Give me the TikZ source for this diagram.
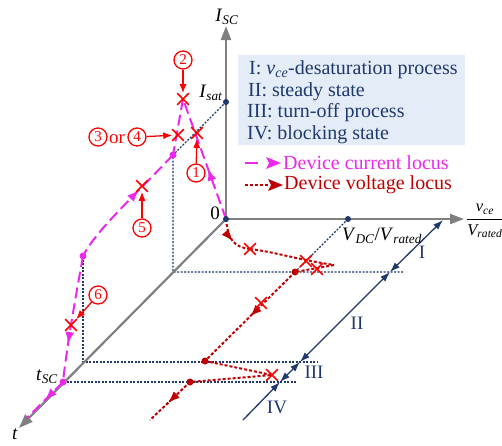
\documentclass[tikz,border=0pt]{standalone}
\usepackage{amsmath}
\usepackage{fontspec}
\setmainfont{Liberation Serif}
\usetikzlibrary{arrows.meta,decorations.markings,shapes.misc}
\definecolor{navy}{RGB}{31,56,110}
\definecolor{mag}{RGB}{236,40,236}
\definecolor{dred}{RGB}{192,0,0}
\definecolor{xred}{RGB}{255,0,0}
\definecolor{axgray}{RGB}{128,128,128}
\definecolor{legbg}{RGB}{228,237,247}
\tikzset{
  axisline/.style={draw=axgray, line width=2.2pt, -{Triangle[length=14pt,width=10pt]}},
  guide/.style={draw=navy, line width=1.2pt, dash pattern=on 2pt off 1.5pt},
  curline/.style={draw=mag, line width=2pt, dash pattern=on 11pt off 5pt},
  voltline/.style={draw=dred, line width=2pt, dash pattern=on 3pt off 2pt},
  phaseline/.style={draw=navy, line width=1.3pt},
  phasetip/.tip={Latex[length=10pt,width=7pt]},
  xmk/.style={cross out, draw=xred, line width=1.6pt, minimum size=10pt, inner sep=0pt},
  cnum/.style={circle, draw=xred, line width=1.3pt, text=xred, minimum size=18pt, inner sep=0pt, font=\fontsize{15}{15}\selectfont},
  annot/.style={draw=xred, line width=1.3pt, -{Latex[length=9pt,width=7pt]}},
  dotmag/.style={circle, fill=mag, minimum size=7pt, inner sep=0pt},
  dotred/.style={circle, fill=dred, minimum size=7pt, inner sep=0pt},
  dotnavy/.style={circle, fill=navy, minimum size=6pt, inner sep=0pt},
  curmark/.style={postaction={decorate,decoration={markings,mark=at position #1 with {\arrow[mag]{Latex[length=12pt,width=9pt]}}}}},
  curmarkrev/.style={postaction={decorate,decoration={markings,mark=at position #1 with {\arrowreversed[mag]{Latex[length=12pt,width=9pt]}}}}},
  voltmark/.style={postaction={decorate,decoration={markings,mark=at position #1 with {\arrow[dred]{Latex[length=12pt,width=9pt]}}}}},
  lbl/.style={inner sep=0pt, font=\fontsize{19}{21}\selectfont},
  phlbl/.style={inner sep=0pt, text=navy, font=\fontsize{19}{21}\selectfont},
  legtxt/.style={anchor=west, inner sep=0pt, text=navy, font=\fontsize{20}{21}\selectfont},
  legitem/.style={anchor=west, inner sep=0pt, font=\fontsize{20}{21}\selectfont}
}
\begin{document}
\begin{tikzpicture}[x=1pt,y=-1pt]
\useasboundingbox (0,0) rectangle (502,445);
% key points
\coordinate (O) at (226,219);
\coordinate (Itop) at (226,26);
\coordinate (Vend) at (464,219);
\coordinate (Tend) at (19,428);
\coordinate (Isat) at (226,102);
\coordinate (VDC) at (348,219);
\coordinate (d1) at (173,155);
\coordinate (d2) at (83,256);
\coordinate (tSC) at (63,382);
\coordinate (t1) at (173,272);
\coordinate (t2) at (83,362);
\coordinate (h1) at (403,272);
\coordinate (h2) at (318,362);
\coordinate (h3) at (297,382);
\coordinate (vd1) at (295,272);
\coordinate (vd2) at (205,361);
\coordinate (vd3) at (190,382);
\coordinate (p0) at (443,220);
\coordinate (p1) at (390,272);
\coordinate (p2) at (300,362);
\coordinate (p3) at (280,382);
\coordinate (p4) at (243,420);
\coordinate (peak) at (183,99);
\coordinate (cend) at (27,418);
\coordinate (vtip) at (334,265);
\coordinate (vk1) at (250,249);
\coordinate (vtip2) at (272,375);
\coordinate (vend) at (150,420);

% legend background
\fill[legbg] (238,55) rectangle (465,145);
\node[legtxt] (L1) at (249,70) {I: \textit{v}\textsubscript{\textit{ce}}-desaturation process};
\node[legtxt] (L2) at (248,92) {II: steady state};
\node[legtxt] (L3) at (247,113) {III: turn-off process};
\node[legtxt] (L4) at (247,135) {IV: blocking state};
\coordinate (lc1) at (245,163);
\coordinate (lc2) at (258,163);
\draw[mag, line width=2pt] (lc1) -- (lc2);
\fill[mag] (266,157) -- (281,163) -- (266,169) -- (269,163) -- cycle;
\node[legitem, text=mag] (LC) at (283,163) {Device current locus};
\coordinate (lv1) at (245,185);
\coordinate (lv2) at (268,185);
\draw[voltline] (lv1) -- (lv2);
\fill[dred] (268,179) -- (283,185) -- (268,191) -- (271,185) -- cycle;
\node[legitem, text=dred] (LV) at (284,185) {Device voltage locus};

% guides
\draw[guide] (Isat) -- (d1) -- (t1) -- (h1);
\draw[guide] (d2) -- (t2) -- (h2);
\draw[guide] (tSC) -- (h3);
\draw[guide] (VDC) -- (vd1);

% axes
\draw[axisline] (O) -- (Itop);
\draw[axisline] (O) -- (Vend);
\draw[axisline] (O) -- (Tend);

% phase line
\draw[phaseline, phasetip-phasetip] (p0) -- (p1);
\draw[phaseline, phasetip-phasetip] (p1) -- (p2);
\draw[phaseline, phasetip-phasetip] (p2) -- (p3);
\draw[phaseline, -phasetip] (p4) -- (p3);

% current locus
\draw[curline, curmark=0.42] (O) -- (peak);
\draw[curline] (peak) -- (d1);
\draw[curline, curmarkrev=0.36] (d1) .. controls (130,200) and (95,232) .. (d2);
\draw[curline, curmark=0.7] (d2) .. controls (76,295) and (67,345) .. (tSC);
\draw[curline, curmark=0.5] (tSC) -- (cend);

% voltage locus
\draw[voltline, voltmark=0.55] (O) .. controls (228,240) and (234,247) .. (vk1);
\draw[voltline] (vk1) .. controls (275,252) and (295,259) .. (vtip);
\draw[voltline] (vtip) -- (vd1);
\draw[voltline, voltmark=0.5] (vd1) -- (vd2);
\draw[voltline] (vd2) -- (vtip2) -- (vd3);
\draw[voltline, voltmark=0.55] (vd3) -- (vend);

% dots
\node[dotnavy] (nO) at (O) {};
\node[dotnavy] (nIsat) at (Isat) {};
\node[dotnavy] (nVDC) at (VDC) {};
\node[dotmag] (nd1) at (d1) {};
\node[dotmag] (nd2) at (d2) {};
\node[dotmag] (ntSC) at (tSC) {};
\node[dotred] (nv1) at (vd1) {};
\node[dotred] (nv2) at (vd2) {};
\node[dotred] (nv3) at (vd3) {};

% crosses
\node[xmk] (x1) at (197,133) {};
\node[xmk] (x2) at (183,99) {};
\node[xmk] (x3) at (178,135) {};
\node[xmk] (x5) at (142,186) {};
\node[xmk] (x6) at (71,325) {};
\node[xmk] (xv1) at (250,249) {};
\node[xmk] (xv2) at (306,261) {};
\node[xmk] (xv3) at (317,269) {};
\node[xmk] (xv4) at (261,303) {};
\node[xmk] (xv5) at (272,375) {};

% circled numbers and annotations
\node[cnum] (c2) at (183,60) {2};
\node[cnum] (c1) at (196,173) {1};
\node[cnum] (c3) at (98,137) {3};
\node[lbl, text=xred] (cor) at (117,139) {or};
\node[cnum] (c4) at (137,137) {4};
\node[cnum] (c5) at (142,228) {5};
\node[cnum] (c6) at (98,295) {6};
\draw[annot] (c2) -- (x2);
\draw[annot] (c1) -- (x1);
\draw[annot] (c4) -- (x3);
\draw[annot] (c5) -- (x5);
\draw[annot] (c6) -- (x6);

% axis labels
\node[lbl] (ISC) at (227,17) {\textit{I}\textsubscript{\textit{SC}}};
\node[lbl] (Isatl) at (211,93) {\textit{I}\textsubscript{\textit{sat}}};
\node[lbl] (zero) at (215,213) {0};
\node[lbl] (VDCl) at (382,236) {\textit{V}\textsubscript{\textit{DC}}/\textit{V}\textsubscript{\textit{rated}}};
\node[inner sep=0pt, anchor=west, font=\fontsize{16.5}{18}\selectfont] (frac) at (466,221) {$\dfrac{\textit{v}_{\textit{ce}}}{\textit{V}_{\textit{rated}}}$};
\node[lbl] (tSCl) at (47,377) {\textit{t}\textsubscript{\textit{SC}}};
\node[lbl] (tl) at (15,434) {\textit{t}};

% phase labels
\node[phlbl] (PI) at (422,252) {I};
\node[phlbl] (PII) at (357,323) {II};
\node[phlbl] (PIII) at (314,372) {III};
\node[phlbl] (PIV) at (277,407) {IV};
\end{tikzpicture}
\end{document}
